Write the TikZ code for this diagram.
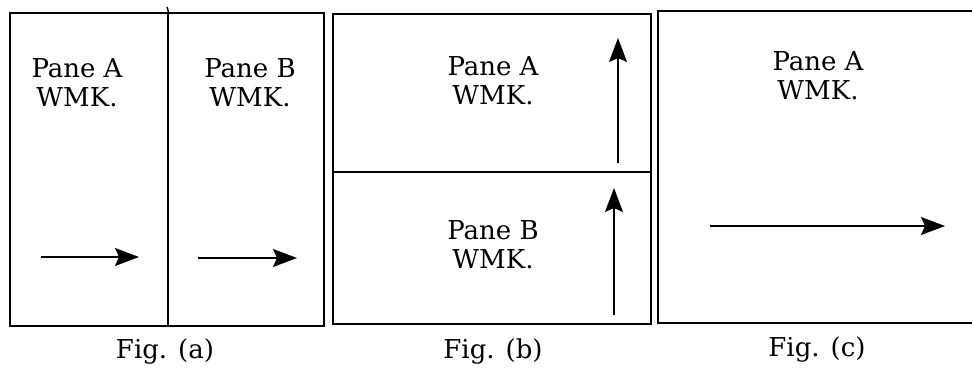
\documentclass[tikz,border=0pt]{standalone}
\usepackage{fontspec}
\setmainfont{DejaVu Serif}
\usetikzlibrary{arrows.meta,positioning}

\begin{document}
\begin{tikzpicture}[x=1pt, y=-1pt,
    pane/.style={draw, line width=1.5pt, inner sep=0, anchor=north west},
    lbl/.style={align=center, font=\fontsize{26}{29}\selectfont},
    flow/.style={line width=1.6pt, -{Stealth[length=24pt, width=18pt, inset=4pt]}}]
      \useasboundingbox (0,0) rectangle (972,367);
      % Fig. (a): two panes side by side
      \node[pane, minimum width=158, minimum height=313] (aA) at (9,12) {};
      \node[pane, minimum width=156, minimum height=313] (aB) at (167,12) {};
      \coordinate (atop) at (167,7);
      \draw[line width=1.5pt] (aA.north east) -- (atop);
      \node[lbl] (aAtxt) at (77,83) {Pane A\\WMK.};
      \node[lbl] (aBtxt) at (250,83) {Pane B\\WMK.};
      \coordinate (aAs) at (41,257);  \coordinate (aAe) at (139,257);
      \coordinate (aBs) at (198,258); \coordinate (aBe) at (297,258);
      \draw[flow] (aAs) -- (aAe);
      \draw[flow] (aBs) -- (aBe);
      \node[lbl] (figa) at (165,352) {Fig. (a)};
      % Fig. (b): two panes stacked
      \node[pane, minimum width=318, minimum height=158] (bA) at (332,13) {};
      \node[pane, minimum width=318, minimum height=152] (bB) at (332,171) {};
      \node[lbl] (bAtxt) at (493,81) {Pane A\\WMK.};
      \node[lbl] (bBtxt) at (493,245) {Pane B\\WMK.};
      \coordinate (bAs) at (618,163); \coordinate (bAe) at (618,38);
      \coordinate (bBs) at (614,315); \coordinate (bBe) at (614,188);
      \draw[flow] (bAs) -- (bAe);
      \draw[flow] (bBs) -- (bBe);
      \node[lbl] (figb) at (493,352) {Fig. (b)};
      % Fig. (c): one pane
      \node[pane, minimum width=322, minimum height=312] (cA) at (657,10) {};
      \node[lbl] (cAtxt) at (818,76) {Pane A\\WMK.};
      \coordinate (cAs) at (710,226); \coordinate (cAe) at (945,226);
      \draw[flow] (cAs) -- (cAe);
      \node[lbl] (figc) at (817,350) {Fig. (c)};
\end{tikzpicture}
\end{document}
